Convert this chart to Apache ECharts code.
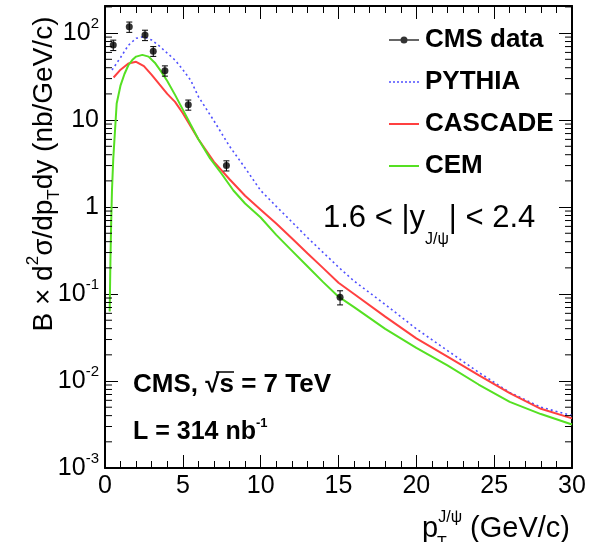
<!DOCTYPE html>
<html>
<head>
<meta charset="utf-8">
<script src="https://cdn.jsdelivr.net/npm/echarts@6/dist/echarts.min.js"></script>
<style>
html, body { margin: 0; padding: 0; background: #fff; }
#main { width: 596px; height: 542px; }
</style>
</head>
<body>
<div id="main"></div>
<script>
// CMS data points (pT, value, error)
var dataX = [0.53, 1.56, 2.57, 3.1, 3.85, 5.35, 7.8, 15.1];
var dataY = [73, 118, 95, 62, 37, 15, 3.0, 0.092];
var dataErr = [10, 16, 13, 8, 5, 2, 0.4, 0.017];

// PYTHIA
var pythiaX = [0.45, 1, 1.5, 2, 2.5, 3, 3.5, 4, 4.5, 5, 5.5, 6, 7, 8, 9, 10, 11, 12, 13, 14, 15, 16, 18, 20, 22, 24, 26, 28, 30];
var pythiaY = [37.6, 52.5, 72.4, 87.1, 91.2, 83.2, 70.8, 58.9, 49.0, 38.0, 28.8, 18.6, 9.8, 5.0, 2.82, 1.55, 1.02, 0.676, 0.447, 0.302, 0.204, 0.141, 0.0759, 0.0398, 0.0224, 0.0126, 0.0074, 0.0050, 0.0040];

// CASCADE
var cascadeX = [0.55, 1, 1.5, 2, 2.5, 3, 3.5, 4, 4.5, 5, 6, 7, 8, 9, 10, 11, 12, 13, 14, 15, 16, 18, 20, 22, 24, 26, 28, 30];
var cascadeY = [30.9, 38.0, 44.7, 46.8, 41.7, 33.1, 25.7, 20.0, 16.2, 12.0, 6.03, 3.31, 2.09, 1.35, 0.933, 0.646, 0.437, 0.295, 0.200, 0.135, 0.100, 0.0550, 0.0309, 0.0191, 0.0117, 0.00724, 0.00479, 0.00372];

// CEM
var cemX = [0.3, 0.35, 0.4, 0.45, 0.53, 0.75, 1, 1.25, 1.5, 1.75, 2, 2.4, 2.8, 3.2, 3.6, 4, 4.5, 5, 5.5, 6, 6.75, 7.5, 8.25, 9, 10, 11, 12, 13, 14, 15, 16, 18, 20, 22, 24, 26, 28, 30];
var cemY = [0.063, 0.251, 0.708, 1.58, 3.55, 15.5, 25.1, 33.9, 42.7, 49.0, 53.7, 56.2, 53.7, 45.7, 36.3, 28.2, 19.5, 13.2, 8.91, 6.03, 3.63, 2.40, 1.55, 1.10, 0.759, 0.479, 0.316, 0.209, 0.138, 0.0933, 0.0708, 0.0398, 0.0240, 0.0151, 0.00912, 0.00575, 0.00417, 0.00316];

// y axis decades and their labels
var yDecades = [0.001, 0.01, 0.1, 1, 10, 100];
var yLabels = ['10{sup|-3}', '10{sup|-2}', '10{sup|-1}', '1', '10', '10{sup|2}'];
var yMax = 205;

var FONT = 'Liberation Sans, Arial, Helvetica, sans-serif';

var yMinor = [];
yDecades.forEach(function (d) {
    for (var k = 2; k <= 9; k++) {
        if (k * d < yMax) yMinor.push(k * d);
    }
});

function pairs(xs, ys) {
    return xs.map(function (x, i) { return [x, ys[i]]; });
}

var supRich = {
    sup: { fontSize: 15, verticalAlign: 'top', lineHeight: 15, fontFamily: FONT, color: '#000' }
};

function yLabel(v) {
    for (var i = 0; i < yDecades.length; i++) {
        if (Math.abs(Math.log10(v) - Math.log10(yDecades[i])) < 1e-6) return yLabels[i];
    }
    return '';
}

// legend icons (30x14 box)
var BOX = 'M0,0L0,0M30,14L30,14';
var iconData = 'path://' + BOX + 'M0,6.3L30,6.3L30,7.7L0,7.7Z M18.5,7A3.5,3.5,0,1,1,11.5,7A3.5,3.5,0,1,1,18.5,7Z';
var iconSolid = 'path://' + BOX + 'M0,6L30,6L30,8L0,8Z';
var iconDots = 'path://' + BOX;
for (var d = 0; d < 30; d += 4) iconDots += 'M' + d + ',6.2h2v1.6h-2Z';

var xAxisBase = {
    type: 'value', min: 0, max: 30, interval: 5,
    axisLine: { onZero: false, lineStyle: { color: '#000', width: 2 } },
    axisTick: { inside: true, length: 13, lineStyle: { color: '#000', width: 1 } },
    minorTick: { show: true, splitNumber: 5, length: 7, lineStyle: { color: '#000', width: 1 } },
    splitLine: { show: false }
};

var yAxisBase = {
    type: 'log', logBase: 10, min: 0.001, max: yMax,
    axisLine: { onZero: false, lineStyle: { color: '#000', width: 2 } },
    axisTick: { inside: true, length: 13, lineStyle: { color: '#000', width: 1 } },
    splitLine: { show: false }
};

var chart = echarts.init(document.getElementById('main'));

var option = {
    animation: false,
    backgroundColor: '#fff',
    textStyle: { fontFamily: FONT },
    grid: { left: 105, right: 24, top: 6, bottom: 74 },
    xAxis: [
        Object.assign({}, xAxisBase, {
            position: 'bottom',
            axisLabel: { fontSize: 25, color: '#000', margin: 6, fontFamily: FONT }
        }),
        Object.assign({}, xAxisBase, { position: 'top', axisLabel: { show: false } })
    ],
    yAxis: [
        Object.assign({}, yAxisBase, {
            position: 'left',
            axisLabel: {
                fontSize: 25, color: '#000', margin: 6, fontFamily: FONT,
                lineHeight: 34, showMaxLabel: false,
                formatter: yLabel, rich: supRich
            }
        }),
        Object.assign({}, yAxisBase, { position: 'right', axisLabel: { show: false } })
    ],
    legend: {
        orient: 'vertical',
        left: 384, top: 22,
        itemWidth: 30, itemHeight: 14, itemGap: 16,
        textStyle: { fontSize: 26, fontWeight: 'bold', color: '#000', fontFamily: FONT, padding: [0, 0, 0, 1] },
        data: [
            { name: 'CMS data', icon: iconData },
            { name: 'PYTHIA', icon: iconDots },
            { name: 'CASCADE', icon: iconSolid },
            { name: 'CEM', icon: iconSolid }
        ]
    },
    series: [
        {
            name: 'yMinorTicks', type: 'custom', silent: true, z: 5,
            data: yMinor.map(function (v) { return [0, v]; }),
            renderItem: function (params, api) {
                var v = api.value(1);
                var p0 = api.coord([0, v]);
                var p1 = api.coord([30, v]);
                return {
                    type: 'group',
                    children: [
                        { type: 'line', shape: { x1: p0[0], y1: p0[1], x2: p0[0] + 7, y2: p0[1] }, style: { stroke: '#000', lineWidth: 1 } },
                        { type: 'line', shape: { x1: p1[0], y1: p1[1], x2: p1[0] - 7, y2: p1[1] }, style: { stroke: '#000', lineWidth: 1 } }
                    ]
                };
            }
        },
        {
            name: 'PYTHIA', type: 'line', data: pairs(pythiaX, pythiaY),
            symbol: 'none', smooth: false,
            itemStyle: { color: '#5050ff' },
            lineStyle: { color: '#5050ff', width: 1.6, type: [2, 3] }
        },
        {
            name: 'CASCADE', type: 'line', data: pairs(cascadeX, cascadeY),
            symbol: 'none', smooth: false,
            itemStyle: { color: '#ff4040' },
            lineStyle: { color: '#ff4040', width: 2 }
        },
        {
            name: 'CEM', type: 'line', data: pairs(cemX, cemY),
            symbol: 'none', smooth: false,
            itemStyle: { color: '#55e022' },
            lineStyle: { color: '#55e022', width: 2 }
        },
        {
            name: 'errors', type: 'custom', z: 9,
            data: dataX.map(function (x, i) { return [x, dataY[i] - dataErr[i], dataY[i] + dataErr[i]]; }),
            renderItem: function (params, api) {
                var lo = api.coord([api.value(0), api.value(1)]);
                var hi = api.coord([api.value(0), api.value(2)]);
                var st = { stroke: '#000', lineWidth: 1 };
                return {
                    type: 'group',
                    children: [
                        { type: 'line', shape: { x1: lo[0], y1: lo[1], x2: hi[0], y2: hi[1] }, style: st },
                        { type: 'line', shape: { x1: lo[0] - 3, y1: lo[1], x2: lo[0] + 3, y2: lo[1] }, style: st },
                        { type: 'line', shape: { x1: hi[0] - 3, y1: hi[1], x2: hi[0] + 3, y2: hi[1] }, style: st }
                    ]
                };
            }
        },
        {
            name: 'CMS data', type: 'scatter', z: 10,
            data: pairs(dataX, dataY),
            symbol: 'circle', symbolSize: 7,
            itemStyle: { color: '#000' }
        }
    ],
    graphic: [
        {
            type: 'text', x: 44, y: 174, rotation: Math.PI / 2,
            style: {
                text: 'B × d{sup|2}σ/dp{sub|T}dy (nb/GeV/c)',
                font: '28px ' + FONT, fill: '#000',
                textAlign: 'center', textVerticalAlign: 'middle', lineHeight: 38,
                rich: {
                    sup: { fontSize: 17, verticalAlign: 'top', lineHeight: 17, fontFamily: FONT },
                    sub: { fontSize: 17, verticalAlign: 'bottom', lineHeight: 17, fontFamily: FONT }
                }
            }
        },
        {
            type: 'text', x: 570, y: 529,
            style: {
                text: 'p{sup|J/ψ} (GeV/c)',
                font: '29px ' + FONT, fill: '#000',
                textAlign: 'right', textVerticalAlign: 'middle', lineHeight: 38,
                rich: { sup: { fontSize: 16, verticalAlign: 'top', lineHeight: 16, fontFamily: FONT } }
            }
        },
        {
            type: 'text', x: 437, y: 544,
            style: { text: 'T', font: '16px ' + FONT, fill: '#000', textAlign: 'left', textVerticalAlign: 'middle' }
        },
        {
            type: 'text', x: 323, y: 218,
            style: {
                text: '1.6 < |y{sub|J/ψ}| < 2.4',
                font: '31px ' + FONT, fill: '#000',
                textAlign: 'left', textVerticalAlign: 'middle', lineHeight: 60,
                rich: { sub: { fontSize: 16, verticalAlign: 'bottom', lineHeight: 16, fontFamily: FONT } }
            }
        },
        {
            type: 'text', x: 133, y: 385,
            style: {
                text: 'CMS, √s = 7 TeV',
                font: 'bold 26px ' + FONT, fill: '#000',
                textAlign: 'left', textVerticalAlign: 'middle'
            }
        },
        // overline of the square root
        {
            type: 'line', shape: { x1: 216, y1: 372, x2: 234, y2: 372 },
            style: { stroke: '#000', lineWidth: 1.5 }
        },
        {
            type: 'text', x: 133, y: 432,
            style: {
                text: 'L = 314 nb{sup|-1}',
                font: 'bold 25px ' + FONT, fill: '#000',
                textAlign: 'left', textVerticalAlign: 'middle', lineHeight: 30,
                rich: { sup: { fontSize: 13, fontWeight: 'bold', verticalAlign: 'top', lineHeight: 13, fontFamily: FONT } }
            }
        }
    ]
};

chart.setOption(option);
</script>
</body>
</html>
